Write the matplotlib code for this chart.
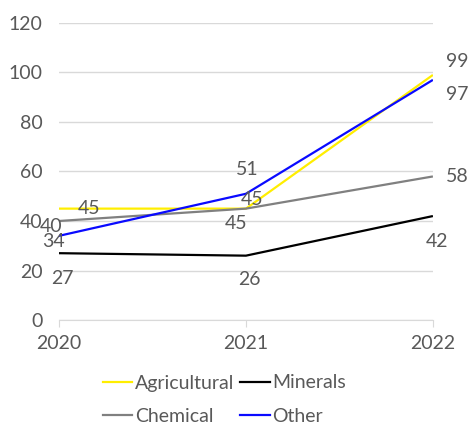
import matplotlib
matplotlib.use("Agg")
import matplotlib.pyplot as plt
from matplotlib.lines import Line2D

years = ["2020", "2021", "2022"]
agricultural = [45, 45, 99]
minerals = [27, 26, 42]
chemical = [40, 45, 58]
other = [34, 51, 97]

TXT = "#595959"
GRID = "#d9d9d9"
FS = 14

# series: name, values, colour, label offsets in pixels for each point
series = [
    ("Agricultural", agricultural, "#ffee00", [(30, 0), (6, 9), (24, 13)]),
    ("Minerals", minerals, "#000000", [(3, -25), (3, -24), (4, -25)]),
    ("Chemical", chemical, "#808080", [(-8, -5), (-10, -15), (24, 0)]),
    ("Other", other, "#0a0aff", [(-6, -6), (1, 24), (24, -15)]),
]

plt.rcParams["font.family"] = ["Lato", "DejaVu Sans"]
fig = plt.figure(figsize=(4.68, 4.25), dpi=100)
ax = fig.add_axes([0.126, 0.247, 0.799, 0.699])

x = list(range(len(years)))
for name, vals, col, offs in series:
    ax.plot(x, vals, color=col, lw=1.6, label=name, solid_capstyle="butt")
    for xi, v, (dx, dy) in zip(x, vals, offs):
        ax.annotate(str(v), (xi, v), xytext=(dx, dy), textcoords="offset pixels",
                    ha="center", va="center", fontsize=FS, color=TXT)

ax.set_xlim(0, 2)
ax.set_ylim(0, 120)
ax.set_yticks(range(0, 121, 20))
ax.set_xticks(x)
ax.set_xticklabels(years)
ax.grid(axis="y", color=GRID, lw=1)
ax.set_axisbelow(True)
for s in ["top", "right", "left"]:
    ax.spines[s].set_visible(False)
ax.spines["bottom"].set_color(GRID)
ax.tick_params(axis="y", length=0, pad=12, labelsize=FS, labelcolor=TXT)
ax.tick_params(axis="x", length=5, color=GRID, pad=6, labelsize=FS, labelcolor=TXT)

handles = [Line2D([], [], color=c, lw=1.6) for _, _, c, _ in series]
labels = [n for n, _, _, _ in series]
# order so rows read Agricultural/Minerals then Chemical/Other
order = [0, 2, 1, 3]
fig.legend([handles[i] for i in order], [labels[i] for i in order], ncol=2,
           loc="upper center", bbox_to_anchor=(0.48, 0.16), frameon=False,
           fontsize=FS, labelcolor=TXT, handlelength=1.5, handletextpad=0.15,
           columnspacing=0.3, labelspacing=0.85)

fig.savefig("out.png", dpi=100)
